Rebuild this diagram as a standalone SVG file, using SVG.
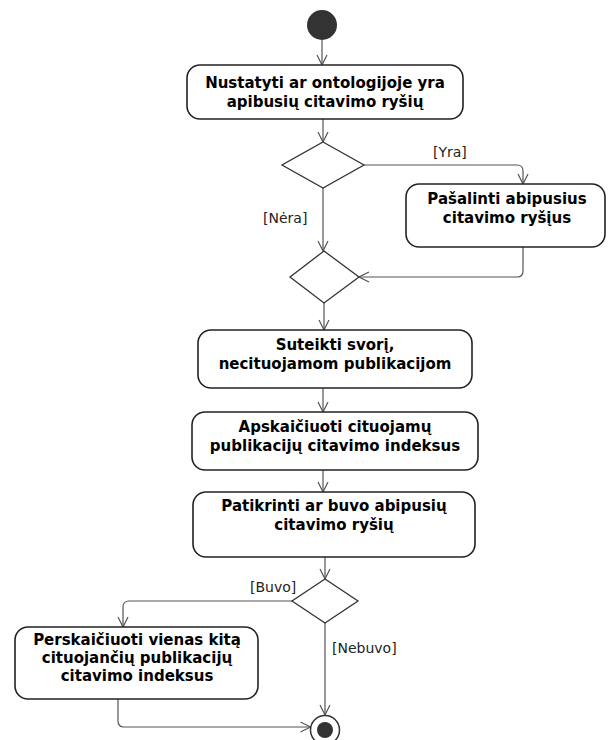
<svg xmlns="http://www.w3.org/2000/svg" width="609" height="740" viewBox="0 0 609 740">
  <style>
    .action { fill: #ffffff; stroke: #222222; stroke-width: 1.6; }
    .decision { fill: #ffffff; stroke: #333333; stroke-width: 1.3; }
    .label { font-family: "DejaVu Sans", Verdana, sans-serif; font-weight: bold; font-size: 15px; fill: #000000; text-anchor: middle; }
    .guard { font-family: "DejaVu Sans", Verdana, sans-serif; font-size: 14px; fill: #222222; }
    .flow { fill: none; stroke: #555555; stroke-width: 1.2; marker-end: url(#open); }
  </style>
  <defs>
    <marker id="open" viewBox="0 0 12 12" refX="11" refY="6" markerWidth="12" markerHeight="12" markerUnits="userSpaceOnUse" orient="auto">
      <path d="M1,1 L11,6 L1,11" fill="none" stroke="#555555" stroke-width="1.2"/>
    </marker>
  </defs>

  <rect width="609" height="740" fill="#ffffff"/>

  <!-- connectors -->
  <g id="connectors">
    <path class="flow" d="M322,40 L322,65"/>
    <path class="flow" d="M323,119 L323,142"/>
    <path class="flow" d="M364,165 L517,165 Q523,165 523,171 L523,184"/>
    <path class="flow" d="M323,188 L323,251"/>
    <path class="flow" d="M523,247 L523,271 Q523,277 517,277 L359,277"/>
    <path class="flow" d="M324,303 L324,330"/>
    <path class="flow" d="M323,388 L323,412"/>
    <path class="flow" d="M323,470 L323,492"/>
    <path class="flow" d="M325,557 L325,579"/>
    <path class="flow" d="M292,601 L129,601 Q123,601 123,607 L123,627"/>
    <path class="flow" d="M325,623 L325,715"/>
    <path class="flow" d="M118,699 L118,721 Q118,727 124,727 L310.5,727"/>
  </g>

  <!-- start -->
  <g id="start">
    <circle cx="322" cy="25" r="15" fill="#333333"/>
  </g>

  <g id="n1">
    <rect class="action" x="187" y="65" width="276" height="54" rx="13"/>
    <text class="label" x="325" y="88">Nustatyti ar ontologijoje yra</text>
    <text class="label" x="325" y="107">apibusių citavimo ryšių</text>
  </g>

  <g id="d1">
    <polygon class="decision" points="323,142 364,165 323,188 282,165"/>
  </g>
  <text class="guard" x="433" y="157">[Yra]</text>
  <text class="guard" x="263" y="223">[Nėra]</text>

  <g id="n2">
    <rect class="action" x="406" y="184" width="199" height="63" rx="13"/>
    <text class="label" x="507" y="204">Pašalinti abipusius</text>
    <text class="label" x="507" y="223">citavimo ryšįus</text>
  </g>

  <g id="d2">
    <polygon class="decision" points="324,251 359,277 324,303 290,277"/>
  </g>

  <g id="n3">
    <rect class="action" x="198" y="330" width="274" height="58" rx="13"/>
    <text class="label" x="335" y="350">Suteikti svorį,</text>
    <text class="label" x="335" y="369">necituojamom publikacijom</text>
  </g>

  <g id="n4">
    <rect class="action" x="192" y="412" width="286" height="58" rx="13"/>
    <text class="label" x="335" y="432">Apskaičiuoti cituojamų</text>
    <text class="label" x="335" y="451">publikacijų citavimo indeksus</text>
  </g>

  <g id="n5">
    <rect class="action" x="193" y="492" width="282" height="65" rx="13"/>
    <text class="label" x="334" y="511">Patikrinti ar buvo abipusių</text>
    <text class="label" x="334" y="530">citavimo ryšių</text>
  </g>

  <g id="d3">
    <polygon class="decision" points="325,579 358,601 325,623 292,601"/>
  </g>
  <text class="guard" x="250" y="592">[Buvo]</text>
  <text class="guard" x="332" y="653">[Nebuvo]</text>

  <g id="n6">
    <rect class="action" x="15" y="627" width="243" height="72" rx="13"/>
    <text class="label" x="137" y="645">Perskaičiuoti vienas kitą</text>
    <text class="label" x="137" y="663">cituojančių publikacijų</text>
    <text class="label" x="137" y="681">citavimo indeksus</text>
  </g>

  <!-- end -->
  <g id="end">
    <circle cx="325" cy="730" r="14.5" fill="#ffffff" stroke="#333333" stroke-width="1.5"/>
    <circle cx="325" cy="730" r="8" fill="#333333"/>
  </g>
</svg>
